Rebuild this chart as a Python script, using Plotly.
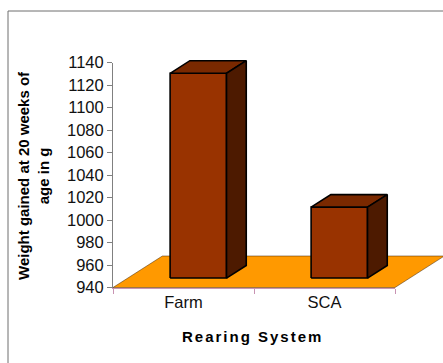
import plotly.graph_objects as go

# ---- data -------------------------------------------------------------
CATEGORIES = ["Farm", "SCA"]
WEIGHT_GAIN = [1122, 1003]          # g gained at 20 weeks of age
Y_TICKS = list(range(940, 1141, 20))

# ---- geometry / style -------------------------------------------------
W, H = 443, 363
Y_RANGE = [940, 1140]
X_RANGE = [-0.5, 1.5]
X_DOM = [113 / W, 395 / W]
Y_DOM = [(H - 287.5) / H, (H - 62.5) / H]

BAR_W = 0.4        # bar width in category units
DEPTH_X = 0.35     # floor depth, horizontal component (category units)
DEPTH_Y = 28.0     # floor depth, vertical component (value units)
F_FRONT, F_BACK = 0.3, 0.7   # bar placement within the floor depth

FRONT = "#993300"
TOP = "#7a2900"
SIDE = "#4d1a00"
FLOOR = "#FF9900"
CAT_AXIS = "#c893b3"


def full_range(rng, dom):
    """Extend an axis range so the same scale covers the whole paper."""
    per = (rng[1] - rng[0]) / (dom[1] - dom[0])
    return [rng[0] - dom[0] * per, rng[1] + (1 - dom[1]) * per]


def shift(x, y, f):
    return x + f * DEPTH_X, y + f * DEPTH_Y


def poly_trace(points, fill, lw=1.6, lc="black"):
    xs = [p[0] for p in points] + [points[0][0]]
    ys = [p[1] for p in points] + [points[0][1]]
    return go.Scatter(
        x=xs, y=ys, mode="lines", fill="toself", fillcolor=fill,
        line=dict(color=lc, width=lw), hoverinfo="skip",
        xaxis="x2", yaxis="y2", showlegend=False,
    )


fig = go.Figure()

# invisible trace that registers the categories on the visible axes
fig.add_trace(go.Scatter(x=CATEGORIES, y=WEIGHT_GAIN, mode="markers",
                         marker=dict(opacity=0), hoverinfo="skip",
                         showlegend=False))

# floor of the 3-D plot area
base = Y_RANGE[0]
floor = [(X_RANGE[0], base), (X_RANGE[1], base),
         shift(X_RANGE[1], base, 1), shift(X_RANGE[0], base, 1)]
fig.add_trace(poly_trace(floor, FLOOR, lw=0.7, lc="rgba(60,30,0,0.7)"))

# 3-D columns
for i, v in enumerate(WEIGHT_GAIN):
    xl, xr = i - BAR_W / 2, i + BAR_W / 2
    front = [shift(xl, base, F_FRONT), shift(xr, base, F_FRONT),
             shift(xr, v, F_FRONT), shift(xl, v, F_FRONT)]
    top = [shift(xl, v, F_FRONT), shift(xr, v, F_FRONT),
           shift(xr, v, F_BACK), shift(xl, v, F_BACK)]
    side = [shift(xr, base, F_FRONT), shift(xr, base, F_BACK),
            shift(xr, v, F_BACK), shift(xr, v, F_FRONT)]
    for face, col in ((front, FRONT), (top, TOP), (side, SIDE)):
        fig.add_trace(poly_trace(face, col))

tick_font = dict(family="Liberation Sans, Arial, sans-serif", size=16.5,
                 color="#111")

fig.update_layout(
    width=W, height=H,
    margin=dict(l=0, r=0, t=0, b=0),
    paper_bgcolor="white", plot_bgcolor="rgba(0,0,0,0)",
    showlegend=False,
    xaxis=dict(
        domain=X_DOM, range=X_RANGE, type="category",
        categoryorder="array", categoryarray=CATEGORIES,
        tickson="boundaries", ticks="outside", ticklen=5,
        tickcolor=CAT_AXIS, showline=True, linecolor=CAT_AXIS, linewidth=1,
        showgrid=False, zeroline=False, tickfont=tick_font,
        automargin=False, anchor="y", fixedrange=True,
    ),
    yaxis=dict(
        domain=Y_DOM, range=Y_RANGE, tickvals=Y_TICKS,
        ticktext=[str(t) for t in Y_TICKS],
        ticks="outside", ticklen=5, tickcolor="#808080",
        showline=True, linecolor="#808080", linewidth=1,
        showgrid=False, zeroline=False, tickfont=tick_font,
        automargin=False, anchor="x", fixedrange=True,
    ),
    xaxis2=dict(domain=[0, 1], range=full_range(X_RANGE, X_DOM),
                visible=False, anchor="y2", fixedrange=True),
    yaxis2=dict(domain=[0, 1], range=full_range(Y_RANGE, Y_DOM),
                visible=False, anchor="x2", fixedrange=True),
    shapes=[dict(type="rect", xref="paper", yref="paper",
                 x0=8 / W, x1=1.05, y0=-0.05, y1=1 - 11 / H,
                 line=dict(color="#6e6e6e", width=1), layer="below")],
    annotations=[
        dict(text="Weight gained at 20 weeks of<br>age in g",
             xref="paper", yref="paper", x=33 / W, y=1 - 176 / H,
             xanchor="center", yanchor="middle", textangle=-90,
             showarrow=False,
             font=dict(family="Liberation Sans, Arial, sans-serif",
                       size=15, color="black", weight="bold")),
        dict(text='<span style="letter-spacing:2px">Rearing System</span>',
             xref="paper", yref="paper", x=252 / W, y=1 - 336 / H,
             xanchor="center", yanchor="middle", showarrow=False,
             font=dict(family="Liberation Sans, Arial, sans-serif",
                       size=15, color="black", weight="bold")),
    ],
)

fig.write_html("out.html", config={"displayModeBar": False})
